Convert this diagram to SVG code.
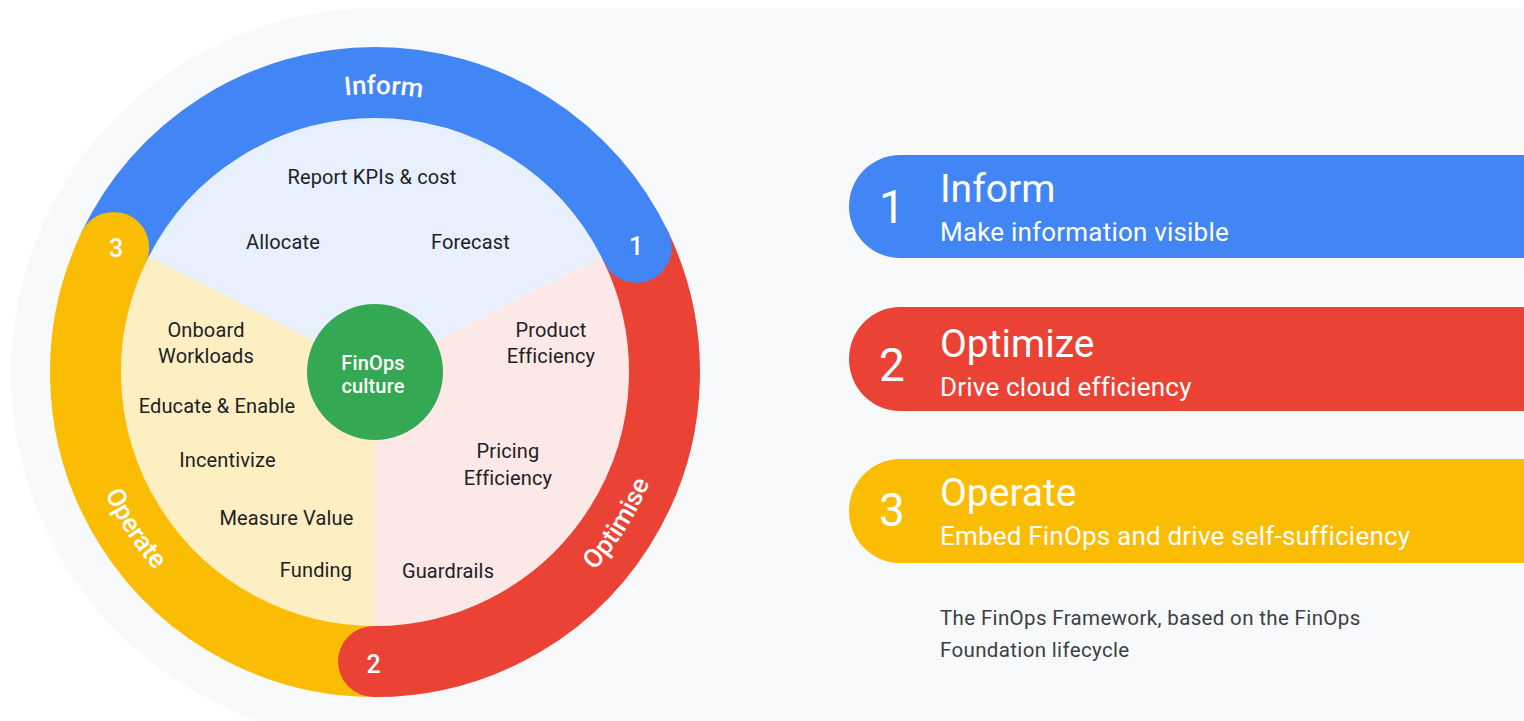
<svg xmlns="http://www.w3.org/2000/svg" width="1524" height="721" viewBox="0 0 1524 721">
<style>
.ring{fill:none;stroke-width:71}
.lbl{font-family:Roboto,"Liberation Sans",sans-serif;font-size:20px;letter-spacing:0.15px;fill:#202124;text-anchor:middle}
.rlbl{font-family:Roboto,"Liberation Sans",sans-serif;font-size:26px;font-weight:500;fill:#fff;text-anchor:middle}
.cap{font-family:Roboto,"Liberation Sans",sans-serif;font-size:25px;font-weight:500;fill:#fff;text-anchor:middle}
.num{font-family:Roboto,"Liberation Sans",sans-serif;font-size:46px;fill:#fff;text-anchor:middle}
.ttl{font-family:Roboto,"Liberation Sans",sans-serif;font-size:39px;fill:#fff}
.sub{font-family:Roboto,"Liberation Sans",sans-serif;font-size:26px;letter-spacing:0.2px;fill:#fff}
.cpt{font-family:Roboto,"Liberation Sans",sans-serif;font-size:20.5px;letter-spacing:0.35px;fill:#3C4043}
</style>
<defs>
<path id="pTop" d="M97,372 A278,278 0 0 1 653,372"/>
<path id="pBot" d="M79,372 A296,296 0 0 0 671,372"/>
</defs>
<rect width="1524" height="721" fill="#fff"/>
<g id="background" fill="#F8F9FA">
<circle cx="377" cy="374" r="366"/>
<rect x="377" y="8" width="1147" height="713"/>
</g>
<g id="wheel">
<g id="sectors">
<path d="M375,372 L148.7,256.7 A254,254 0 0 1 601.3,256.7 Z" fill="#E8F0FE"/>
<path d="M375,372 L601.3,256.7 A254,254 0 0 1 375,626 Z" fill="#FCE8E6"/>
<path d="M375,372 L375,626 A254,254 0 0 1 148.7,256.7 Z" fill="#FEEFC3"/>
</g>
<g id="ring">
<path class="ring" stroke="#4285F4" d="M113.7,247.4 A289.5,289.5 0 0 1 636.3,247.4"/>
<path class="ring" stroke="#EA4335" d="M636.3,247.4 A289.5,289.5 0 0 1 373.5,661.5"/>
<path class="ring" stroke="#FBBC04" d="M373.5,661.5 A289.5,289.5 0 0 1 113.7,247.4"/>
<circle cx="636.3" cy="247.4" r="35.5" fill="#4285F4"/>
<circle cx="373.5" cy="661.5" r="35.5" fill="#EA4335"/>
<circle cx="113.7" cy="247.4" r="35.5" fill="#FBBC04"/>
<text class="cap" x="636" y="255">1</text>
<text class="cap" x="373.5" y="673">2</text>
<text class="cap" x="116" y="257">3</text>
<text class="rlbl"><textPath href="#pTop" startOffset="51%">Inform</textPath></text>
<text class="rlbl"><textPath href="#pBot" startOffset="18.4%">Operate</textPath></text>
<text class="rlbl"><textPath href="#pBot" startOffset="82.2%">Optimise</textPath></text>
</g>
<g id="inform-items">
<text class="lbl" x="372" y="184">Report KPIs &amp; cost</text>
<text class="lbl" x="283" y="249">Allocate</text>
<text class="lbl" x="470.5" y="249">Forecast</text>
</g>
<g id="optimise-items">
<text class="lbl" x="551" y="337">Product</text>
<text class="lbl" x="551" y="363">Efficiency</text>
<text class="lbl" x="508" y="458">Pricing</text>
<text class="lbl" x="508" y="485">Efficiency</text>
<text class="lbl" x="448" y="578">Guardrails</text>
</g>
<g id="operate-items">
<text class="lbl" x="206" y="337">Onboard</text>
<text class="lbl" x="206" y="363">Workloads</text>
<text class="lbl" x="217" y="413">Educate &amp; Enable</text>
<text class="lbl" x="227.5" y="467">Incentivize</text>
<text class="lbl" x="286.5" y="525">Measure Value</text>
<text class="lbl" x="316" y="577">Funding</text>
</g>
<g id="culture">
<circle cx="375" cy="372" r="68" fill="#34A853"/>
<text class="lbl" x="373" y="370" style="fill:#fff;font-weight:500">FinOps</text>
<text class="lbl" x="373" y="393" style="fill:#fff;font-weight:500">culture</text>
</g>
</g>
<g id="legend-1">
<path d="M900,155 H1524 V258 H900 A51,51.5 0 0 1 900,155 Z" fill="#4285F4"/>
<text class="num" x="892" y="223">1</text>
<text class="ttl" x="940" y="202">Inform</text>
<text class="sub" x="940" y="241">Make information visible</text>
</g>
<g id="legend-2">
<path d="M900,307 H1524 V411 H900 A51,52 0 0 1 900,307 Z" fill="#EA4335"/>
<text class="num" x="892" y="381">2</text>
<text class="ttl" x="940" y="357">Optimize</text>
<text class="sub" x="940" y="396">Drive cloud efficiency</text>
</g>
<g id="legend-3">
<path d="M900,459 H1524 V563 H900 A51,52 0 0 1 900,459 Z" fill="#FBBC04"/>
<text class="num" x="892" y="526">3</text>
<text class="ttl" x="940" y="506">Operate</text>
<text class="sub" x="940" y="545">Embed FinOps and drive self-sufficiency</text>
</g>
<g id="caption">
<text class="cpt" x="940" y="625">The FinOps Framework, based on the FinOps</text>
<text class="cpt" x="940" y="657">Foundation lifecycle</text>
</g>
</svg>
